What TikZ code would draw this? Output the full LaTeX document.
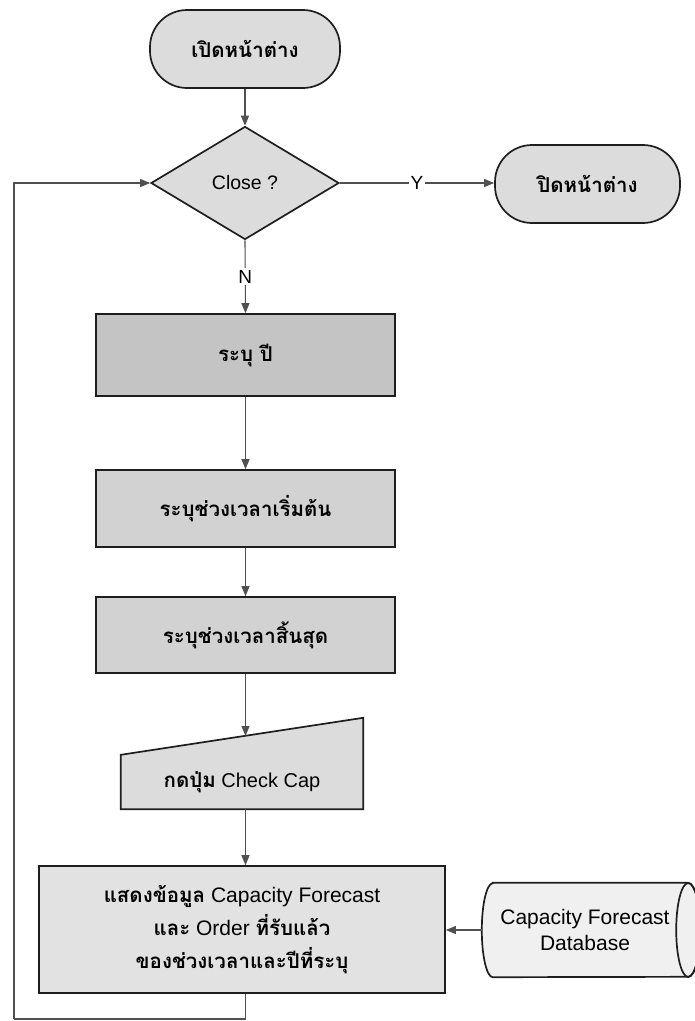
\documentclass[tikz,border=0pt]{standalone}
\usepackage{fontspec}
\setmainfont{Liberation Sans}
\newfontfamily\thai[Script=Thai]{Loma}
\usetikzlibrary{arrows.meta,calc,shapes.geometric}

\definecolor{inkline}{HTML}{1E1E1E}
\definecolor{wire}{HTML}{505050}
\definecolor{fillA}{HTML}{C4C4C4}
\definecolor{fillB}{HTML}{D2D2D2}
\definecolor{fillC}{HTML}{DCDCDC}
\definecolor{fillD}{HTML}{E2E2E2}
\definecolor{fillDB}{HTML}{F0F0F0}

\tikzset{
  txt/.style={font=\fontsize{20}{33}\selectfont, align=center, inner sep=0pt},
  outline/.style={draw=inkline, line width=1.7pt},
  term/.style={txt, outline, rectangle, rounded corners=37pt, fill=fillC},
  procbox/.style={txt, outline, rectangle, minimum width=299pt},
  decision/.style={txt, outline, diamond, fill=fillC, minimum width=188pt, minimum height=113pt},
  flow/.style={draw=wire, line width=1.1pt, -{Triangle[length=10pt,width=8pt]}},
  link/.style={draw=wire, line width=1.1pt},
  lbl/.style={font=\fontsize{19}{20}\selectfont, fill=white, inner sep=2pt}
}
% Thai runs, set a little heavier than the Latin text
\newcommand{\thtxt}[1]{{\thai\fontsize{20.5}{33}\selectfont\bfseries #1}}

\begin{document}
\begin{tikzpicture}[x=1pt,y=-1pt]
\useasboundingbox (0,0) rectangle (695,1021);

% terminators and decision
\node[term, minimum width=190pt, minimum height=78pt] (start) at (245,49) {\thtxt{เปิดหน้าต่าง}};
\node[decision, font=\fontsize{19.5}{24}\selectfont] (dec) at (245,183) {Close ?};
\node[term, minimum width=185pt, minimum height=78pt] (stop) at (587.5,184) {\thtxt{ปิดหน้าต่าง}};

% process boxes
\node[procbox, fill=fillA, minimum height=82pt] (year) at (245.5,355) {\thtxt{ระบุ ปี}};
\node[procbox, fill=fillB, minimum height=77pt] (from) at (245.5,508.5) {\thtxt{ระบุช่วงเวลาเริ่มต้น}};
\node[procbox, fill=fillB, minimum height=76pt] (to) at (245.5,635) {\thtxt{ระบุช่วงเวลาสิ้นสุด}};

% manual input
\node[txt, minimum width=242pt, minimum height=54pt] (btn) at (242,782) {};
\fill[fillC] (btn.south west) -- (btn.north west) -- ($(btn.north east)+(0,-37)$) -- (btn.south east) -- cycle;
\draw[outline] (btn.south west) -- (btn.north west) -- ($(btn.north east)+(0,-37)$) -- (btn.south east) -- cycle;
\node[txt] at (btn) {\thtxt{กดปุ่ม} Check Cap};
\coordinate (btntop) at (245.5,736);

% result box
\node[procbox, fill=fillD, minimum width=406pt, minimum height=127pt, font=\fontsize{21}{33}\selectfont] (show) at (242,929.5)
  {\thtxt{แสดงข้อมูล} Capacity Forecast\\\thtxt{และ} Order \thtxt{ที่รับแล้ว}\\\thtxt{ของช่วงเวลาและปีที่ระบุ}};

% database
\node[txt, minimum width=206pt, minimum height=94pt] (db) at (585,930) {};
\draw[outline, fill=fillDB] ($(db.north west)+(11,0)$) -- (db.north east)
  arc[start angle=-90, end angle=90, x radius=12, y radius=47]
  -- ($(db.south west)+(11,0)$)
  arc[start angle=90, end angle=270, x radius=11, y radius=47] -- cycle;
\draw[outline] (db.east) ellipse[x radius=12, y radius=47];
\node[txt, font=\fontsize{21}{26}\selectfont] at (db) {Capacity Forecast\\Database};

% connectors
\draw[flow] (start.south) -- (dec.north);
\draw[flow] (dec.east) -- node[lbl] {Y} (dec.east -| stop.west);
\draw[flow] (dec.south) -- node[lbl] {N} (year.north);
\draw[flow] (year.south) -- (from.north);
\draw[flow] (from.south) -- (to.north);
\draw[flow] (to.south) -- (btntop);
\draw[flow] (btn.south -| to.south) -- (show.north -| to.south);
\draw[flow] (db.west) -- (db.west -| show.east);
\coordinate (loopcorner) at (14,1019);
\draw[link] (show.south -| to.south) |- (loopcorner);
\draw[flow] (loopcorner) |- (dec.west);
\end{tikzpicture}
\end{document}
